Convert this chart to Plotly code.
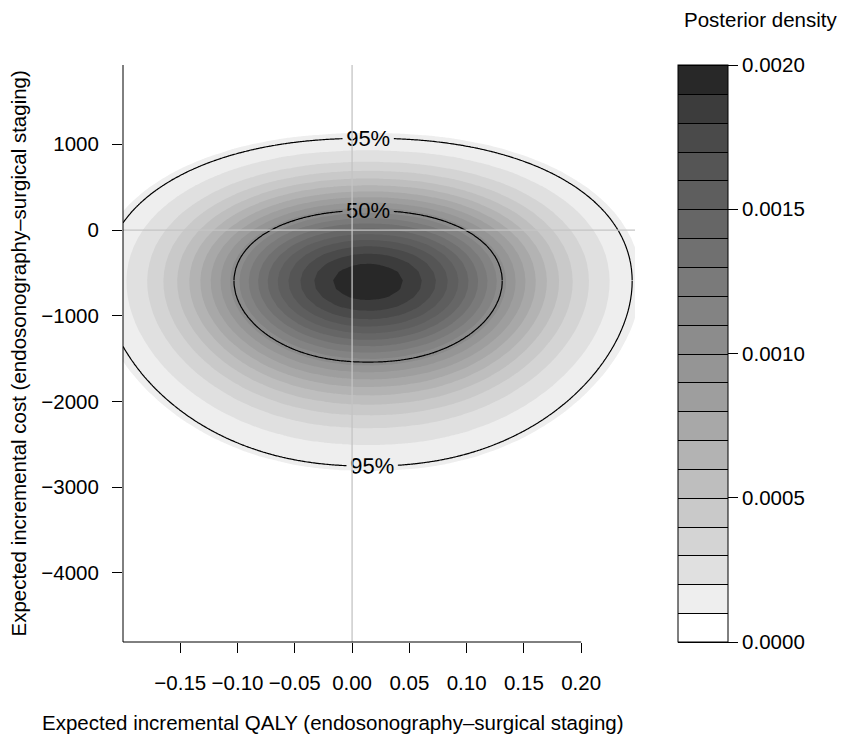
import math
import numpy as np
import plotly.graph_objects as go

# ---------------------------------------------------------------------------
# Posterior of incremental QALY (exponential-power) and incremental cost
# (skew-normal); the two are independent a posteriori
# ---------------------------------------------------------------------------
qaly_center = 0.014
qaly_scale = 0.103
qaly_power = 2.2
cost_location = -21.0
cost_scale = 1060.0
cost_shape = -1.5
# Gaussian kernel bandwidths (QALY, cost) of the smoothed, shaded density
kernel_bandwidth = [0.022, 170.0]

# Grid on which the shaded density is evaluated
qaly_grid = np.linspace(-0.2, 0.248, 57)
cost_grid = np.linspace(-4800, 1920, 68)

# Filled-contour levels (start, end, step) and grey shade of each band, lowest first
density_levels = [0.0, 0.002, 0.0001]
band_grays = [
    "#ffffff", "#eeeeee", "#e0e0e0", "#d4d4d4", "#c9c9c9",
    "#bebebe", "#b3b3b3", "#a8a8a8", "#9e9e9e", "#959595",
    "#8c8c8c", "#838383", "#7a7a7a", "#707070", "#666666",
    "#5e5e5e", "#555555", "#4a4a4a", "#3c3c3c", "#282828",
]

# Highest-posterior-density regions outlined on top of the shading
credible_levels = [0.50, 0.95]

# Axes
x_range = [-0.2, 0.247]
y_range = [-4805, 1925]
x_ticks = [-0.15, -0.10, -0.05, 0.0, 0.05, 0.10, 0.15, 0.20]
y_ticks = [-4000, -3000, -2000, -1000, 0, 1000]
colorbar_ticks = [0.0, 0.0005, 0.0010, 0.0015, 0.0020]

x_title = "Expected incremental QALY (endosonography\u2013surgical staging)"
y_title = "Expected incremental cost (endosonography\u2013surgical staging)"
colorbar_title = "Posterior density"

FONT = "Liberation Sans, Arial, Helvetica, sans-serif"
TEXT_SIZE = 20.5

# Figure geometry in pixels
W, H = 844, 740
PLOT_L, PLOT_R, PLOT_T, PLOT_B = 123, 635, 65, 642
KEY_L, KEY_W = 678, 50


# ---------------------------------------------------------------------------
# Densities
# ---------------------------------------------------------------------------
_erf = np.frompyfunc(math.erf, 1, 1)


def normal_cdf(x):
    return 0.5 * (1.0 + _erf(np.asarray(x, float) / math.sqrt(2.0)).astype(float))


def normal_pdf(x, mu, sd):
    z = (np.asarray(x, float) - mu) / sd
    return np.exp(-0.5 * z * z) / (math.sqrt(2 * math.pi) * sd)


def exp_power_pdf(x, mu, s, beta):
    z = np.abs((np.asarray(x, float) - mu) / s)
    norm = 2.0 * s * 2.0 ** (1.0 / beta) * math.gamma(1.0 + 1.0 / beta)
    return np.exp(-0.5 * z ** beta) / norm


def skew_normal_pdf(x, xi, omega, alpha):
    z = (np.asarray(x, float) - xi) / omega
    return 2.0 / omega * np.exp(-0.5 * z * z) / math.sqrt(2 * math.pi) * normal_cdf(alpha * z)


def posterior_density(q, c):
    """Joint posterior density on a (cost, qaly) grid."""
    return np.outer(skew_normal_pdf(c, cost_location, cost_scale, cost_shape),
                    exp_power_pdf(q, qaly_center, qaly_scale, qaly_power))


def smoothed_density(q, c):
    """Posterior convolved with a Gaussian kernel (kernel density estimate)."""
    hq, hc = kernel_bandwidth
    # QALY margin: numerical convolution
    u = np.linspace(-1.0, 1.0, 4001)
    du = u[1] - u[0]
    smooth_q = np.convolve(exp_power_pdf(u, qaly_center, qaly_scale, qaly_power),
                           normal_pdf(u, 0.0, hq), mode="same") * du
    # cost margin: a skew-normal convolved with a normal stays skew-normal
    delta = cost_shape / math.sqrt(1 + cost_shape ** 2)
    omega = math.hypot(cost_scale, hc)
    delta_s = delta * cost_scale / omega
    alpha_s = delta_s / math.sqrt(1 - delta_s ** 2)
    return np.outer(skew_normal_pdf(c, cost_location, omega, alpha_s),
                    np.interp(q, u, smooth_q))


shaded = smoothed_density(qaly_grid, cost_grid)

# Probability content of the HPD region bounded by each density value
fine_q = np.linspace(qaly_center - 6 * qaly_scale, qaly_center + 6 * qaly_scale, 601)
fine_c = np.linspace(cost_location - 7 * cost_scale, cost_location + 4 * cost_scale, 881)
fine = posterior_density(fine_q, fine_c)
cell = (fine_q[1] - fine_q[0]) * (fine_c[1] - fine_c[0])
desc = np.sort(fine.ravel())[::-1]
content = np.cumsum(desc) * cell


def hpd_content(d):
    return np.interp(d, desc[::-1], content[::-1])


cost_marg = skew_normal_pdf(fine_c, cost_location, cost_scale, cost_shape)
cost_mode = float(fine_c[np.argmax(cost_marg)])

line_q = np.linspace(x_range[0], x_range[1], 301)
upper_c = np.linspace(cost_mode, y_range[1], 161)
lower_c = np.linspace(y_range[0], cost_mode, 241)
upper_hpd = hpd_content(posterior_density(line_q, upper_c))
lower_hpd = hpd_content(posterior_density(line_q, lower_c))

# ---------------------------------------------------------------------------
# Colour scales
# ---------------------------------------------------------------------------
start, end, step = density_levels
n_bands = len(band_grays)
# contour 'fill' colouring: background, one colour per band, then above the top level
fill_colors = [band_grays[0]] + band_grays + [band_grays[-1]]
fill_scale = [[j / (len(fill_colors) - 1), col] for j, col in enumerate(fill_colors)]
# stepped scale for the key
step_scale = []
for k, col in enumerate(band_grays):
    step_scale.append([k / n_bands, col])
    step_scale.append([(k + 1) / n_bands, col])

label_font = dict(family=FONT, size=22, color="black")
black_line = dict(color="black", width=1.2, smoothing=1)

fig = go.Figure()

# Shaded posterior density
fig.add_trace(go.Contour(
    x=qaly_grid, y=cost_grid, z=shaded,
    autocontour=False,
    contours=dict(start=start, end=end, size=step, coloring="fill", showlines=False),
    colorscale=fill_scale, showscale=False,
    line=dict(width=0, smoothing=0),
    hoverinfo="skip",
))

# Key: same density, transparent in the panel, drawn only as the colour bar
fig.add_trace(go.Contour(
    x=qaly_grid, y=cost_grid, z=shaded,
    autocontour=False, zmin=start, zmax=end,
    contours=dict(start=start, end=end, size=step, coloring="heatmap", showlines=True),
    colorscale=step_scale, opacity=0,
    line=dict(color="black", width=1),
    hoverinfo="skip",
    colorbar=dict(
        thickness=KEY_W, thicknessmode="pixels",
        len=1, lenmode="fraction",
        x=(KEY_L - PLOT_L) / (PLOT_R - PLOT_L), xanchor="left", xpad=0,
        y=0.5, yanchor="middle", ypad=0,
        outlinewidth=1, outlinecolor="black",
        ticks="outside", ticklen=10, tickwidth=1, tickcolor="black",
        tickvals=colorbar_ticks, tickformat=".4f",
        tickfont=dict(family=FONT, size=TEXT_SIZE, color="black"),
    ),
))

# Reference lines at zero
fig.add_trace(go.Scatter(x=[0, 0], y=y_range, mode="lines",
                         line=dict(color="#c4c4c4", width=1.3), hoverinfo="skip", showlegend=False))
fig.add_trace(go.Scatter(x=x_range, y=[0, 0], mode="lines",
                         line=dict(color="#c4c4c4", width=1.3), hoverinfo="skip", showlegend=False))


def hpd_outline(c, z, level, labelled):
    return go.Contour(
        x=line_q, y=c, z=z, autocontour=False,
        contours=dict(start=level, end=level, size=1, coloring="none",
                      showlabels=labelled, labelformat=".0%", labelfont=label_font),
        line=black_line, showscale=False, hoverinfo="skip",
    )


inner, outer = credible_levels
fig.add_trace(hpd_outline(upper_c, upper_hpd, outer, True))
fig.add_trace(hpd_outline(upper_c, upper_hpd, inner, True))
fig.add_trace(hpd_outline(lower_c, lower_hpd, outer, True))
fig.add_trace(hpd_outline(lower_c, lower_hpd, inner, False))

pw, ph = PLOT_R - PLOT_L, PLOT_B - PLOT_T
axis_font = dict(family=FONT, size=TEXT_SIZE, color="black")
title_font = dict(family=FONT, size=TEXT_SIZE, color="black")

fig.update_layout(
    width=W, height=H,
    margin=dict(l=PLOT_L, r=W - PLOT_R, t=PLOT_T, b=H - PLOT_B, pad=0),
    paper_bgcolor="white", plot_bgcolor="white",
    font=dict(family=FONT, color="black"),
    showlegend=False,
    xaxis=dict(range=x_range, tickvals=x_ticks, tickformat=".2f", ticks="outside",
               ticklen=10, tickwidth=1, tickcolor="black", tickfont=axis_font,
               ticklabelstandoff=12,
               showgrid=False, zeroline=False, showline=False),
    yaxis=dict(range=y_range, tickvals=y_ticks, tickformat="d", ticks="outside",
               ticklen=10, tickwidth=1, tickcolor="black", tickfont=axis_font,
               ticklabelstandoff=9,
               showgrid=False, zeroline=False, showline=False),
    shapes=[
        dict(type="line", xref="paper", yref="paper", x0=0, x1=0, y0=0, y1=1,
             line=dict(color="black", width=1)),
        dict(type="line", xref="x", yref="paper", x0=x_range[0], x1=x_ticks[-1], y0=0, y1=0,
             line=dict(color="black", width=1)),
    ],
    annotations=[
        dict(text=x_title, xref="paper", yref="paper",
             x=(333 - PLOT_L) / pw, y=-(722 - PLOT_B) / ph,
             xanchor="center", yanchor="middle", showarrow=False, font=title_font),
        dict(text=y_title, xref="paper", yref="paper",
             x=(18 - PLOT_L) / pw, y=0.5, textangle=-90,
             xanchor="center", yanchor="middle", showarrow=False, font=title_font),
        dict(text=colorbar_title, xref="paper", yref="paper",
             x=(682 - PLOT_L) / pw, y=1 + (PLOT_T - 19) / ph,
             xanchor="left", yanchor="middle", showarrow=False, font=title_font),
    ],
)

fig.write_html("out.html")
